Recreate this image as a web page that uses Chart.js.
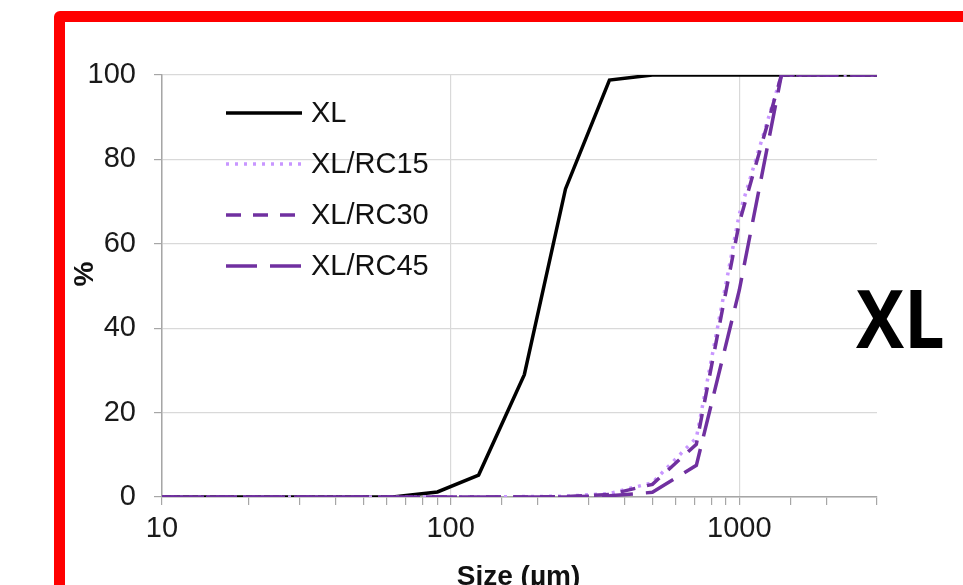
<!DOCTYPE html>
<html>
<head>
<meta charset="utf-8">
<title>Particle size distribution</title>
<script src="https://cdn.jsdelivr.net/npm/chart.js@4.4.1/dist/chart.umd.min.js"></script>
<style>
  html, body { margin: 0; padding: 0; background: #fff; overflow: hidden; }
  #wrap { position: relative; width: 963px; height: 585px; }
  #frame {
    position: absolute; left: 54px; top: 11px; width: 960px; height: 640px;
    border: 11px solid #ff0000; border-top-left-radius: 6px; box-sizing: border-box;
  }
  #tag {
    position: absolute; left: 856px; top: 277px;
    font: bold 80px "Open Sans", sans-serif; line-height: 1; color: #000;
    transform: scaleX(0.9); transform-origin: left top;
  }
  #chart { position: absolute; left: 0; top: 0; }
</style>
</head>
<body>
<div id="wrap">
  <div id="frame"></div>
  <canvas id="chart" width="963" height="585"></canvas>
  <div id="tag">XL</div>
</div>
<script>
// sieve sizes (µm) and cumulative passing (%)
const sizes = [10, 20, 32, 45, 63, 90, 125, 180, 250, 355, 500, 710, 1000, 1400, 2000, 3000];
const xl    = [0, 0, 0, 0, 0, 1.2, 5.2, 29, 73, 98.8, 100, 100, 100, 100, 100, 100];
const rc15  = [0, 0, 0, 0, 0, 0, 0, 0.1, 0.2, 0.8, 3.4, 14, 67, 100, 100, 100];
const rc30  = [0, 0, 0, 0, 0, 0, 0, 0, 0.1, 0.6, 3, 12.5, 65, 100, 100, 100];
const rc45  = [0, 0, 0, 0, 0, 0, 0, 0, 0, 0.3, 1.1, 7.5, 49, 100, 100, 100];

const xLabelled = [10, 100, 1000];
const yTicks = [0, 20, 40, 60, 80, 100];
const xTitle = 'Size (µm)';
const yTitle = '%';

const PURPLE = '#7030A0';
const LILAC = '#C896FF';
const FONT = '"Liberation Sans", Arial, sans-serif';

function pts(ys) {
  return sizes.map((s, i) => ({ x: s, y: ys[i] }));
}

const isLabelled = v => xLabelled.some(m => Math.abs(m - v) < 1e-6);

// legend drawn inside the plot, upper left
const insetLegend = {
  id: 'insetLegend',
  afterDatasetsDraw(chart) {
    const { ctx, chartArea } = chart;
    const x0 = chartArea.left + 64;
    const y0 = chartArea.top + 38;
    ctx.save();
    ctx.font = '29px ' + FONT;
    ctx.textBaseline = 'middle';
    chart.data.datasets.forEach((ds, i) => {
      const y = y0 + i * 51;
      ctx.strokeStyle = ds.borderColor;
      ctx.lineWidth = ds.borderWidth;
      ctx.setLineDash(ds.borderDash || []);
      ctx.beginPath();
      ctx.moveTo(x0, y);
      ctx.lineTo(x0 + 76, y);
      ctx.stroke();
      ctx.setLineDash([]);
      ctx.fillStyle = '#111';
      ctx.fillText(ds.label, x0 + 85, y + 1);
    });
    ctx.restore();
  }
};

const axisTitles = {
  id: 'axisTitles',
  afterDraw(chart) {
    const { ctx, chartArea } = chart;
    ctx.save();
    ctx.fillStyle = '#111';
    ctx.font = 'bold 28px ' + FONT;
    ctx.textAlign = 'center';
    ctx.textBaseline = 'alphabetic';
    ctx.fillText(xTitle, (chartArea.left + chartArea.right) / 2 - 1, 585);
    ctx.translate(chartArea.left - 77, 274);
    ctx.rotate(-Math.PI / 2);
    ctx.textBaseline = 'middle';
    ctx.fillText(yTitle, 0, 0);
    ctx.restore();
  }
};

new Chart(document.getElementById('chart'), {
  type: 'line',
  data: {
    datasets: [
      { label: 'XL', data: pts(xl), borderColor: '#000', borderWidth: 3.5, order: 3 },
      { label: 'XL/RC15', data: pts(rc15), borderColor: LILAC, borderWidth: 3.5, borderDash: [3, 6], order: 2 },
      { label: 'XL/RC30', data: pts(rc30), borderColor: PURPLE, borderWidth: 3.5, borderDash: [15, 12], order: 1 },
      { label: 'XL/RC45', data: pts(rc45), borderColor: PURPLE, borderWidth: 3.5, borderDash: [31, 13], order: 0 }
    ]
  },
  options: {
    responsive: false,
    animation: false,
    layout: { padding: { left: 0, right: 86, top: 75, bottom: 0 } },
    elements: { point: { radius: 0 }, line: { tension: 0, fill: false } },
    plugins: { legend: { display: false }, tooltip: { enabled: false } },
    scales: {
      x: {
        type: 'logarithmic',
        min: 10,
        max: 3000,
        afterFit: s => { s.height = 88; },
        border: { color: '#a6a6a6', width: 1.5 },
        grid: {
          color: ctx => (ctx.tick && isLabelled(ctx.tick.value)) ? '#d9d9d9' : 'rgba(0,0,0,0)',
          tickColor: '#a6a6a6',
          tickLength: 8,
          lineWidth: 1.2
        },
        ticks: {
          autoSkip: false,
          maxRotation: 0,
          padding: 7,
          color: '#1a1a1a',
          font: { family: FONT, size: 29 },
          callback: v => isLabelled(v) ? String(v) : ''
        }
      },
      y: {
        min: 0,
        max: 100,
        afterFit: s => { s.width = 162; },
        afterBuildTicks: s => { s.ticks = yTicks.map(v => ({ value: v })); },
        border: { color: '#a6a6a6', width: 1.5 },
        grid: { color: '#d9d9d9', tickColor: '#a6a6a6', tickLength: 8, lineWidth: 1.2 },
        ticks: {
          padding: 18,
          color: '#1a1a1a',
          font: { family: FONT, size: 29 }
        }
      }
    }
  },
  plugins: [insetLegend, axisTitles]
});
</script>
</body>
</html>
